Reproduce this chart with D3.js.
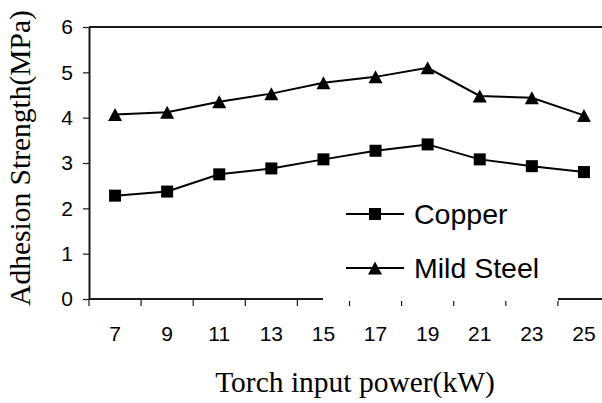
<!DOCTYPE html>
<html>
<head>
<meta charset="utf-8">
<script src="https://cdn.jsdelivr.net/npm/d3@7"></script>
<style>
  html, body { margin: 0; padding: 0; background: #fff; }
  svg { display: block; }
</style>
</head>
<body>
<svg id="chart" width="602" height="403"></svg>
<script>
const categories = ["7", "9", "11", "13", "15", "17", "19", "21", "23", "25"];
const copper = [2.28, 2.37, 2.75, 2.88, 3.08, 3.27, 3.41, 3.08, 2.93, 2.80];
const mildSteel = [4.07, 4.12, 4.35, 4.53, 4.77, 4.90, 5.10, 4.48, 4.44, 4.05];
const yTicks = [0, 1, 2, 3, 4, 5, 6];
const seriesNames = ["Copper", "Mild Steel"];

(function () {
const svg = d3.select("#chart");
const pLeft = 89, pRight = 610, pTop = 27, pBottom = 299;

const x = d3.scaleBand().domain(categories).range([pLeft, pRight]).padding(0);
const y = d3.scaleLinear().domain([0, 6]).range([pBottom, pTop]);

const axisColor = "#1a1a1a";

// frame top line
svg.append("line").attr("x1", pLeft).attr("x2", 602).attr("y1", y(6)).attr("y2", y(6))
  .attr("stroke", axisColor).attr("stroke-width", 2);

// y axis
const yAxis = svg.append("g").attr("transform", `translate(${pLeft},0)`)
  .call(d3.axisLeft(y).tickValues(yTicks).tickFormat(d3.format("d"))
    .tickSize(6).tickPadding(10).tickSizeOuter(0));
yAxis.select(".domain").attr("stroke", axisColor).attr("stroke-width", 2);
yAxis.selectAll(".tick line").attr("stroke", axisColor).attr("stroke-width", 1.2);
yAxis.selectAll(".tick text").attr("font-family", "'Liberation Sans', Arial, sans-serif")
  .attr("font-size", 21).attr("fill", "#000");

// x axis: ticks at band boundaries
const xAxisG = svg.append("g").attr("transform", `translate(0,${pBottom})`);
xAxisG.append("line").attr("x1", pLeft).attr("x2", 602).attr("y1", 0).attr("y2", 0)
  .attr("stroke", axisColor).attr("stroke-width", 2);

// legend background (covers axis line, drawn before ticks)
const legend = svg.append("g");
legend.append("rect").attr("x", 323).attr("y", 185).attr("width", 235).attr("height", 116)
  .attr("fill", "#fff");

xAxisG.selectAll(".xt").data(categories).enter().append("line")
  .attr("class", "xt")
  .attr("x1", d => x(d)).attr("x2", d => x(d))
  .attr("y1", 0).attr("y2", 7)
  .attr("stroke", axisColor).attr("stroke-width", 1.2);
xAxisG.selectAll(".xl").data(categories).enter().append("text")
  .attr("class", "xl")
  .attr("x", d => x(d) + x.bandwidth() / 2)
  .attr("y", 42)
  .attr("text-anchor", "middle")
  .attr("font-family", "'Liberation Sans', Arial, sans-serif")
  .attr("font-size", 21).attr("fill", "#000")
  .text(d => d);

// axis titles
svg.append("text")
  .attr("transform", `translate(30,158) rotate(-90)`)
  .attr("text-anchor", "middle")
  .attr("font-family", "'Liberation Serif', 'Times New Roman', serif")
  .attr("font-size", 29.5).attr("fill", "#000")
  .text("Adhesion Strength(MPa)");
svg.append("text")
  .attr("x", 355).attr("y", 392)
  .attr("text-anchor", "middle")
  .attr("font-family", "'Liberation Serif', 'Times New Roman', serif")
  .attr("font-size", 29.5).attr("fill", "#000")
  .text("Torch input power(kW)");

// series
const cx = d => x(d) + x.bandwidth() / 2;
const line = d3.line().x(d => cx(d.c)).y(d => y(d.v));
const triPath = "M0,-6.5L7,6.5L-7,6.5Z";

function drawSeries(vals, marker) {
  const pts = categories.map((c, i) => ({ c, v: vals[i] }));
  svg.append("path").datum(pts).attr("d", line)
    .attr("fill", "none").attr("stroke", "#000").attr("stroke-width", 2);
  const g = svg.append("g");
  if (marker === "square") {
    g.selectAll("rect").data(pts).enter().append("rect")
      .attr("x", d => cx(d.c) - 6).attr("y", d => y(d.v) - 6)
      .attr("width", 12).attr("height", 12).attr("fill", "#000");
  } else {
    g.selectAll("path").data(pts).enter().append("path")
      .attr("d", triPath)
      .attr("transform", d => `translate(${cx(d.c)},${y(d.v)})`)
      .attr("fill", "#000");
  }
}
drawSeries(copper, "square");
drawSeries(mildSteel, "triangle");

// legend entries
const legRows = [
  { name: seriesNames[0], marker: "square", yy: 214 },
  { name: seriesNames[1], marker: "triangle", yy: 268 }
];
legRows.forEach(r => {
  legend.append("line").attr("x1", 346).attr("x2", 404).attr("y1", r.yy).attr("y2", r.yy)
    .attr("stroke", "#000").attr("stroke-width", 2);
  if (r.marker === "square") {
    legend.append("rect").attr("x", 375 - 6).attr("y", r.yy - 6).attr("width", 12).attr("height", 12).attr("fill", "#000");
  } else {
    legend.append("path").attr("d", triPath).attr("transform", `translate(375,${r.yy})`).attr("fill", "#000");
  }
  legend.append("text").attr("x", 414).attr("y", r.yy + 10)
    .attr("font-family", "'Liberation Sans', Arial, sans-serif")
    .attr("font-size", 28.5).attr("fill", "#000")
    .text(r.name);
});
})();
</script>
</body>
</html>
